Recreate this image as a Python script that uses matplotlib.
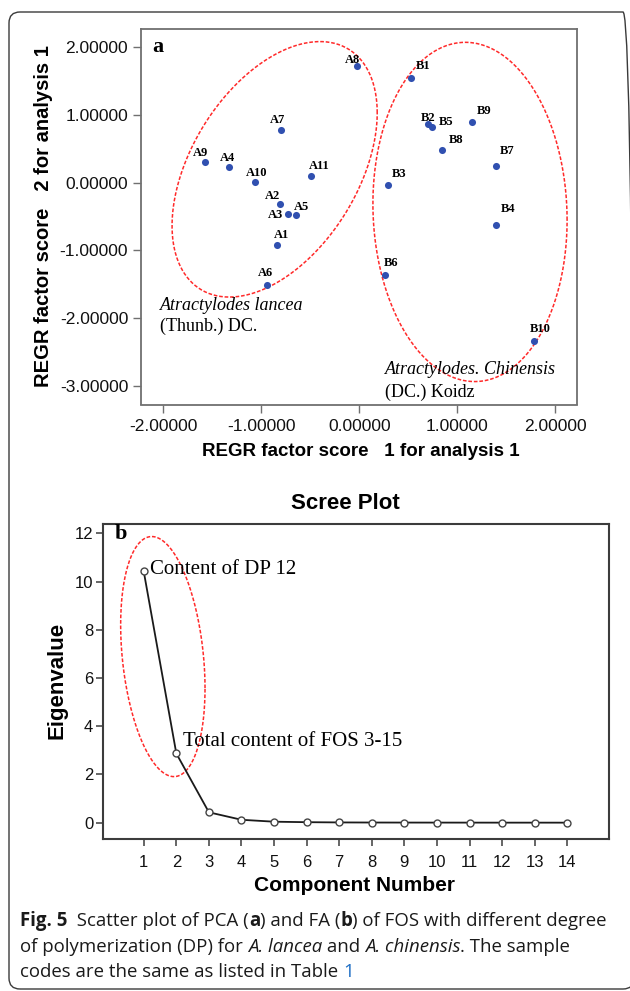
import matplotlib
matplotlib.use('Agg')
import matplotlib.pyplot as plt
import numpy as np
from matplotlib.patches import FancyBboxPatch
from matplotlib.transforms import IdentityTransform

plt.rcParams['axes.unicode_minus'] = False
SANS = 'Liberation Sans'
SERIF = 'Liberation Serif'
CAP = 'Open Sans'

# --- panel a: PCA scores ---
samples = ['A1', 'A2', 'A3', 'A4', 'A5', 'A6', 'A7', 'A8', 'A9', 'A10', 'A11',
           'B1', 'B2', 'B3', 'B4', 'B5', 'B6', 'B7', 'B8', 'B9', 'B10']
score1 = [-0.84, -0.81, -0.73, -1.33, -0.65, -0.94, -0.80, -0.02, -1.57, -1.06, -0.49,
          0.53, 0.70, 0.29, 1.40, 0.74, 0.26, 1.40, 0.85, 1.15, 1.78]
score2 = [-0.92, -0.31, -0.47, 0.23, -0.48, -1.52, 0.77, 1.72, 0.31, 0.01, 0.09,
          1.55, 0.87, -0.04, -0.62, 0.82, -1.37, 0.24, 0.48, 0.90, -2.34]
xticks_a = [-2, -1, 0, 1, 2]
yticks_a = [-3, -2, -1, 0, 1, 2]

# --- panel b: scree plot ---
component = list(range(1, 15))
eigenvalue = [10.42, 2.87, 0.43, 0.12, 0.04, 0.02, 0.01, 0.006, 0.004, 0.003,
              0.002, 0.001, 0.001, 0.0005]

# label offsets in pixels (dx right, dy down) from each point
lab_off = [(5, -10), (-7, -8), (-12, 1), (-1, -9), (6, -8), (-2, -12), (-3, -10),
           (-5, -6), (-5, -9), (1, -9), (8, -10),
           (12, -12), (0, -6), (12, -11), (12, -16), (14, -5), (6, -12), (11, -15),
           (14, -10), (12, -11), (7, -12)]

W, H = 630, 991
fig = plt.figure(figsize=(W / 100, H / 100), dpi=100)


def fx(px):
    return px / W


def fy(py):
    return 1 - py / H


def ring(ax, cx, cy, sx, sy, rho):
    t = np.linspace(0, 2 * np.pi, 400)
    x = cx + sx * np.cos(t)
    y = cy + sy * (rho * np.cos(t) + np.sqrt(1 - rho ** 2) * np.sin(t))
    ax.plot(x, y, color='#ff2a2a', lw=1.1, dashes=(2.4, 1.2), zorder=1)


# outer frame
fig.patches.append(FancyBboxPatch((9, H - 989), 625, 977,
                                  boxstyle='round,pad=0,rounding_size=11',
                                  transform=IdentityTransform(), fill=False,
                                  ec='#3a3a3a', lw=1.0))

# panel a
axa = fig.add_axes([fx(140.7), fy(404.5), (576.7 - 140.7) / W, (404.5 - 29) / H])
axa.scatter(score1, score2, s=26, color='#3050b0', zorder=3, linewidths=0)
for name, x, y, (dx, dy) in zip(samples, score1, score2, lab_off):
    axa.annotate(name, (x, y), xytext=(dx, -dy), textcoords='offset pixels',
                 ha='center', va='center', fontsize=9, fontweight='bold',
                 family=SERIF, zorder=4)
ring(axa, -0.863, 0.196, 1.047, 1.888, 0.442)
ring(axa, 1.131, -0.434, 0.991, 2.507, -0.048)
axa.text(-2.03, -1.81, 'Atractylodes lancea', fontsize=13, style='italic',
         family=SERIF, va='center')
axa.text(-2.03, -2.12, '(Thunb.) DC.', fontsize=13, family=SERIF, va='center')
axa.text(0.266, -2.76, 'Atractylodes. Chinensis', fontsize=13, style='italic',
         family=SERIF, va='center')
axa.text(0.266, -3.10, '(DC.) Koidz', fontsize=13, family=SERIF, va='center')
axa.text(0.040, 0.953, 'a', transform=axa.transAxes, fontsize=16,
         fontweight='bold', family=SERIF, ha='center', va='center')
axa.set_xlim(-2.23, 2.22)
axa.set_ylim(-3.28, 2.27)
axa.set_xticks(xticks_a)
axa.set_yticks(yticks_a)
axa.set_xticklabels(['%.5f' % v for v in xticks_a])
axa.set_yticklabels(['%.5f' % v for v in yticks_a])
for sp in axa.spines.values():
    sp.set_color('#707070')
    sp.set_linewidth(1.3)
axa.tick_params(axis='x', length=5.5, width=1, color='#707070', pad=4.7,
                labelsize=12.5)
axa.tick_params(axis='y', length=5.8, width=1, color='#707070', pad=3.2,
                labelsize=12.5)
for lab in axa.get_xticklabels() + axa.get_yticklabels():
    lab.set_family(SANS)
    lab.set_color('#111111')
fig.text(fx(361), fy(451.7), 'REGR factor score   1 for analysis 1', fontsize=13.5,
         fontweight='bold', family=SANS, ha='center', va='center')
fig.text(fx(43.3), fy(216), 'REGR factor score   2 for analysis 1', fontsize=14.5,
         fontweight='bold', family=SANS, ha='center', va='center', rotation=90)

# panel b
axb = fig.add_axes([fx(102.7), fy(839.3), 506.6 / W, 315.3 / H])
axb.plot(component, eigenvalue, color='#1a1a1a', lw=1.3, marker='o', ms=5,
         mfc='white', mec='#444444', mew=1.0, zorder=3)
ring(axb, 1.586, 6.89, 1.295, 4.98, -0.263)
axb.text(1.19, 10.49, 'Content of DP 12', fontsize=15, family=SERIF, va='center')
axb.text(2.197, 3.35, 'Total content of FOS 3-15', fontsize=15, family=SERIF,
         va='center')
axb.text(0.036, 0.968, 'b', transform=axb.transAxes, fontsize=16,
         fontweight='bold', family=SERIF, ha='center', va='center')
axb.set_xlim(-0.26, 15.29)
axb.set_ylim(-0.69, 12.39)
axb.set_xticks(component)
axb.set_yticks(range(0, 13, 2))
for sp in axb.spines.values():
    sp.set_color('#3c3c3c')
    sp.set_linewidth(1.5)
axb.tick_params(axis='x', length=5, width=1.1, color='#3c3c3c', pad=6.3,
                labelsize=12)
axb.tick_params(axis='y', length=4.8, width=1.1, color='#3c3c3c', pad=2,
                labelsize=12)
for lab in axb.get_xticklabels() + axb.get_yticklabels():
    lab.set_family(SANS)
    lab.set_color('#111111')
fig.text(fx(345), fy(503), 'Scree Plot', fontsize=16, fontweight='bold',
         family=SANS, ha='center', va='center')
fig.text(fx(354), fy(885.5), 'Component Number', fontsize=15, fontweight='bold',
         family=SANS, ha='center', va='center')
fig.text(fx(56.7), fy(680), 'Eigenvalue', fontsize=16, fontweight='bold',
         family=SANS, ha='center', va='center', rotation=90)

# caption with mixed styles
renderer = fig.canvas.get_renderer()
cap_size = 13.4


def seg_width(txt, kw):
    t1 = fig.text(0, 0, '|' + txt + '|', fontsize=cap_size, family=CAP, **kw)
    t2 = fig.text(0, 0, '||', fontsize=cap_size, family=CAP, **kw)
    w = t1.get_window_extent(renderer).width - t2.get_window_extent(renderer).width
    t1.remove()
    t2.remove()
    return w


caption = [
    [('Fig. 5', {'fontweight': 'bold'}), ('  Scatter plot of PCA (', {}),
     ('a', {'fontweight': 'bold'}), (') and FA (', {}), ('b', {'fontweight': 'bold'}),
     (') of FOS with different degree', {})],
    [('of polymerization (DP) for ', {}), ('A. lancea', {'style': 'italic'}),
     (' and ', {}), ('A. chinensis', {'style': 'italic'}), ('. The sample', {})],
    [('codes are the same as listed in Table ', {}), ('1', {'color': '#1f6fc5'})],
]
baselines = [926, 952, 977]
for parts, by in zip(caption, baselines):
    x = 20.0
    for txt, kw in parts:
        kw2 = dict(kw)
        kw2.setdefault('color', '#1a1a1a')
        fig.text(fx(x), fy(by), txt, fontsize=cap_size, family=CAP,
                 va='baseline', ha='left', **kw2)
        x += seg_width(txt, kw)

fig.savefig('out.png', dpi=100)
